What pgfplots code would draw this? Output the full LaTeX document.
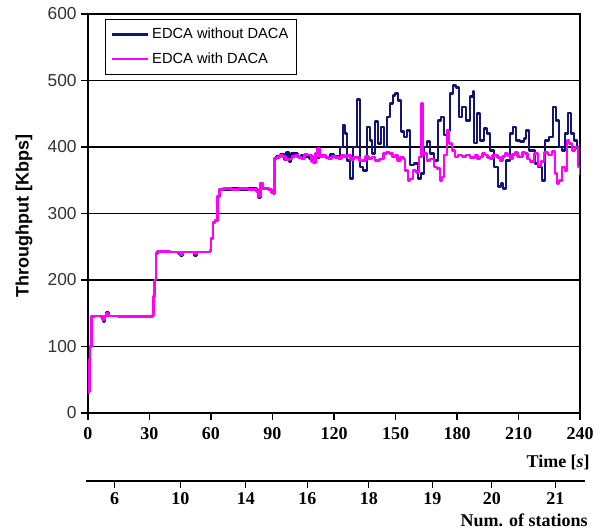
\documentclass[border=0pt]{standalone}
\usepackage{pgfplots}
\pgfplotsset{compat=1.18}
\usepackage{fontspec}
\setmainfont{Liberation Serif}
\newfontfamily\arialf{Liberation Sans}
\definecolor{navyline}{RGB}{20,20,115}
\definecolor{magline}{RGB}{255,0,255}
\begin{document}
\begin{tikzpicture}
\useasboundingbox (-66pt,-88.5pt) rectangle (389.25pt,309.75pt);
\begin{axis}[
  name=main,
  at={(0,0)}, anchor=south west,
  scale only axis,
  width=369pt, height=299.25pt,
  xmin=0, xmax=240, ymin=0, ymax=600,
  xtick={0,30,...,240}, ytick={0,100,...,600},
  /pgf/number format/assume math mode=true,
  axis line style={black, line width=0.9pt},
  major grid style={black, line width=0.9pt},
  ymajorgrids,
  tick align=outside,
  tick style={black, line width=0.9pt},
  major tick length=5pt,
  xtick pos=bottom, ytick pos=left,
  xticklabel style={font=\bfseries\fontsize{13.5}{14}\selectfont, yshift=-2pt},
  yticklabel style={font=\arialf\fontsize{13}{14}\selectfont, text=black!80},
  xlabel={\bfseries Time [\textit{s}]},
  xlabel style={font=\fontsize{13.5}{14}\selectfont, at={(axis description cs:1,0)}, anchor=east, inner sep=0pt, yshift=-36.75pt, xshift=7.5pt},
  ylabel={Throughput [Kbps]},
  ylabel style={font=\arialf\bfseries\fontsize{13.5}{14}\selectfont, at={([xshift=-48pt]axis description cs:0,0.4937)}, anchor=center, inner sep=0pt},
  legend style={at={(axis description cs:0.0346,0.9875)}, anchor=north west, draw=black, line width=0.6pt, fill=white,
    font=\arialf\fontsize{11}{12}\selectfont, inner xsep=4pt, inner ysep=4.5pt, row sep=5pt},
  legend cell align=left,
  legend image code/.code={\draw[#1] (0pt,0pt) -- (27pt,0pt);},
  every axis plot/.append style={line width=2.1pt, line join=round, const plot},
]
\addplot[navyline] coordinates {
(0,30)(0.4,35)(0.6,80)(1.0,100)(1.6,145)(3,146)(6,145)(7,140)(7.5,137)(8,146)(9,151)(10,146)(15,145)(20,145)(25,145)(30,145)(31.5,147)(32,175)(32.6,200)(33.2,240)(34,243)(40,242)(44,240)(45,237)(46,242)(51,242)(52,237)(53,242)(58,242)(59.5,244)(60,262)(61,286)(62,290)(63,326)(64,336)(70,337)(74,336)(78,337)(82,334)(83,324)(84,346)(85,338)(88,336)(89.5,331)(90.4,330)(91,383)(92,386)(94,389)(96,381)(97,392)(98,378)(99,390)(102,385)(104,388)(106,386)(108,383)(110,384)(113,388)(116,385)(118,389)(120,386)(122,385)
(122.9,400)(124.4,433)(125.4,420)(126.3,380)(127.8,353)(129.3,400)(131.2,472)(132.7,370)(134.1,365)(136.1,430)(137.6,410)(138.5,390)(140,438)(141.5,405)(142.9,430)(144.4,400)(145.9,445)(147.3,465)(148.8,478)(149.8,481)(151.2,470)(152.7,423)(154.1,415)(155.6,425)(157.1,373)(159,375)(161,353)(162.4,360)(163.9,400)(165.4,408)(166.8,390)(168.8,380)(170.7,440)(172.2,445)(173.7,418)(175.1,425)(176.6,480)(178,493)(179.5,490)(181,445)(182.4,460)(184.4,440)(186.3,476)(187.8,483)(188.3,406)(189.8,450)(191.2,410)(193.2,428)(194.6,420)(196.1,395)(198,370)(200,340)(201.5,345)(202.4,337)(203.9,380)(205.9,420)(207.3,430)(208.8,410)(210.7,408)(212.7,413)(213.7,425)(215.1,395)(216.6,395)(218,375)(219.5,370)(221.5,350)(222.9,410)(224.9,415)(226.8,460)(228.3,440)(229.8,400)(231.2,395)(232.7,420)(234.1,451)(235.6,420)(237.1,410)(238.5,398)(240,405)
};
\addlegendentry{EDCA without DACA}
\addplot[magline] coordinates {
(0,30)(0.4,32)(0.6,80)(1.0,100)(1.6,145)(3,146)(6,145)(7,141)(8,146)(9,150)(10,146)(15,145)(20,145)(25,145)(30,145)(31.5,147)(32,175)(32.6,200)(33.2,240)(34,243)(40,242)(44,241)(45,238)(46,242)(51,242)(52,239)(53,242)(58,242)(59.5,244)(60,262)(61,286)(62,290)(63,326)(64,336)(66,338)(70,336)(74,337)(78,336)(82,333)(83,325)(84,345)(85,338)(88,336)(89.5,332)(90.4,330)(91,383)
(92,384)(93.5,388)(95,386)(96.5,381)(98,382)(99.5,386)(101,387)(102.5,384)(104,383)(105.5,389)(107,388)(109,378)(110,376)(111,390)(112,398)(113,385)(114.5,388)(116,384)(117.5,382)(119,386)(120.5,384)(122,383)(123.5,387)(125,385)(126.5,388)(128,381)(129.5,385)(131,384)(132.5,379)(134,380)(135.5,386)(137,383)(138.5,385)(140,380)(142,382)(144,390)(145.5,392)(147,390)(148.5,385)(150,388)(151,380)(152.5,384)(154,382)
(154.6,365)(156.1,350)(157,352)(158.5,365)(160,362)(161.5,385)(162.7,466)(163.4,390)(165.4,380)(166.8,382)(168.8,370)(170.2,368)(171.7,350)(172.7,355)(173.7,388)(175.1,425)(176.1,405)(177.6,395)(179,385)(180.5,388)(182.4,386)(184.4,388)(186.3,384)(188.8,388)(190,382)(191.2,385)(192.5,390)(193.7,388)(195,384)(196.1,383)(197.3,387)(198.5,388)(199.7,384)(201,380)(202.2,386)(203.4,390)(204.6,387)(205.9,383)(207.1,389)(208.3,392)(209.5,386)(210.7,385)(212,392)(213.2,390)(214.4,382)(215.6,378)(217.6,390)(219.5,372)(221,378)(222.4,392)(224.4,388)(226.3,393)(227.8,360)(228.8,345)(229.8,350)(231.2,370)(232.7,365)(233.7,410)(234.6,405)(236.1,395)(237.6,400)(239,370)(240,358)
};
\addlegendentry{EDCA with DACA}
\end{axis}
\begin{axis}[
  at={(-1.5pt,-51pt)}, anchor=south west,
  scale only axis,
  width=374.25pt, height=10pt,
  xmin=-0.976, xmax=242.44, ymin=0, ymax=1,
  axis x line*=bottom, axis y line=none,
  axis line style={black, line width=0.9pt},
  tick align=outside,
  tick style={black, line width=0.9pt},
  major tick length=5pt,
  xtick={13,45,77,107,137,168,197,228},
  xticklabels={6,10,14,16,18,19,20,21},
  xticklabel style={font=\bfseries\fontsize{13.5}{14}\selectfont},
  xlabel={\bfseries Num. of stations},
  xlabel style={font=\fontsize{13.5}{14}\selectfont, at={(axis description cs:1,0)}, anchor=east, inner sep=0pt, yshift=-29.25pt, xshift=2.25pt},
]
\end{axis}
\end{tikzpicture}
\end{document}
